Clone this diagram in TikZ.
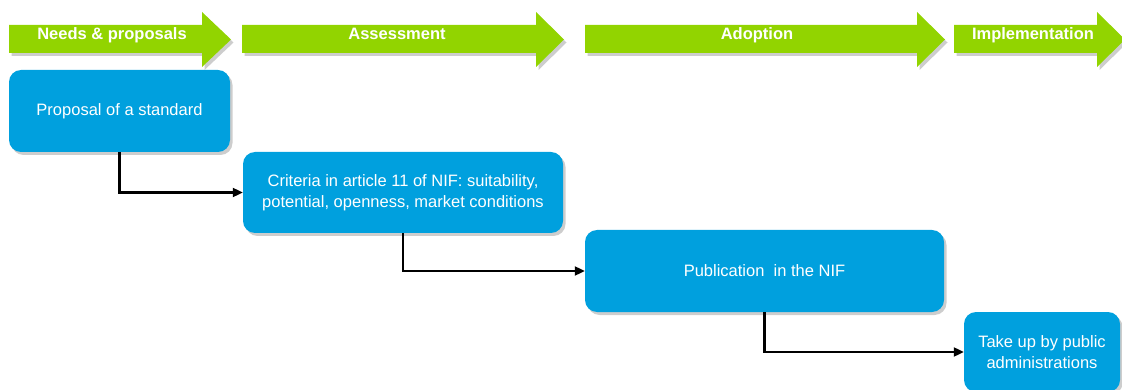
\documentclass[tikz,border=0pt]{standalone}
\usepackage{fontspec}
\setmainfont{Liberation Sans}
\usetikzlibrary{arrows.meta,shadows}
\definecolor{stagegreen}{RGB}{146,212,0}
\definecolor{boxblue}{RGB}{0,160,222}
\begin{document}
\begin{tikzpicture}[x=1pt,y=-1pt,
  softshadow/.style={drop shadow={shadow xshift=2.5pt,shadow yshift=-3pt,opacity=0.28,fill=black!70}},
  stagearrow/.style={fill=stagegreen,softshadow},
  stagelabel/.style={text=white,font=\fontsize{16.5}{20}\selectfont\bfseries,anchor=base,inner sep=0pt},
  stepbox/.style={fill=boxblue,rounded corners=12pt,text=white,align=center,
    font=\fontsize{16.5}{20.5}\selectfont,inner sep=0pt,softshadow},
  link/.style={draw=black,line width=2.1pt,-{Triangle[length=10pt,width=9pt]}}
]
\useasboundingbox (0,0) rectangle (1122,390);
% stage arrows
\fill[stagearrow] (9,25) -- (202,25) -- (202,12) -- (231,39.5) -- (202,67) -- (202,53) -- (9,53) -- cycle;
\fill[stagearrow] (242,25) -- (536,25) -- (536,12) -- (564,39.5) -- (536,67) -- (536,53) -- (242,53) -- cycle;
\fill[stagearrow] (585,25) -- (917,25) -- (917,12) -- (945,39.5) -- (917,67) -- (917,53) -- (585,53) -- cycle;
\fill[stagearrow] (954,25) -- (1097,25) -- (1097,12) -- (1125,39.5) -- (1097,67) -- (1097,53) -- (954,53) -- cycle;
\node[stagelabel] (s1) at (112,40) {Needs \& proposals};
\node[stagelabel] (s2) at (397,40) {Assessment};
\node[stagelabel] (s3) at (757,40) {Adoption};
\node[stagelabel] (s4) at (1033,40) {Implementation};
% boxes
\node[stepbox,minimum width=221pt,minimum height=82pt] (b1) at (119.5,111) {Proposal of a standard};
\node[stepbox,minimum width=320pt,minimum height=81pt] (b2) at (403,192.5) {Criteria in article 11 of NIF: suitability,\\potential, openness, market conditions};
\node[stepbox,minimum width=359pt,minimum height=82pt] (b3) at (764.5,271) {Publication\ \ in the NIF};
\node[stepbox,minimum width=156pt,minimum height=80pt] (b4) at (1042,352) {Take up by public\\administrations};
% connectors
\draw[link] (b1.south) |- (b2.west);
\draw[link] (b2.south) |- (b3.west);
\draw[link] (b3.south) |- (b4.west);
\end{tikzpicture}
\end{document}
